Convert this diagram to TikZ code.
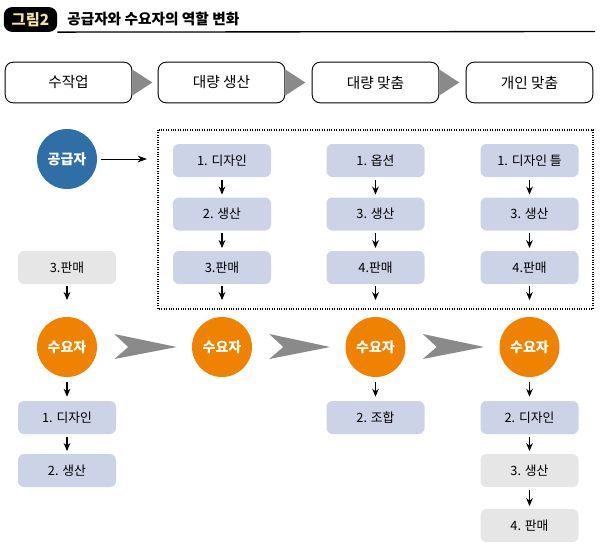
\documentclass[tikz,border=0pt]{standalone}
\usepackage{fontspec}
\setmainfont{Noto Sans CJK KR}
\usepackage{tikz}
\usetikzlibrary{positioning,arrows.meta,calc}
\definecolor{boxblue}{RGB}{205,211,230}
\definecolor{greybox}{RGB}{230,230,230}
\definecolor{orangeacc}{RGB}{239,131,0}
\definecolor{supblue}{RGB}{48,111,166}
\definecolor{chevgrey}{RGB}{138,138,138}
\definecolor{cream}{RGB}{242,226,164}
\newcommand{\fs}[1]{\fontsize{#1}{#1}\selectfont}
\tikzset{
  stage/.style ={draw=black, line width=0.7pt, rounded corners=6pt, fill=white,
                 minimum width=95pt, minimum height=30.5pt, font=\fs{11}},
  blk/.style   ={fill=boxblue, rounded corners=4.5pt, minimum width=73.5pt,
                 minimum height=24.75pt, inner sep=0pt, font=\fs{9.6}},
  gblk/.style  ={blk, fill=greybox},
  actor/.style ={circle, minimum size=45pt, inner sep=0pt, text=white,
                 font=\fs{10.5}\bfseries},
  ar/.style    ={-{Stealth[length=6pt,width=5pt]}, line width=0.8pt},
  chev/.style  ={fill=chevgrey},
}

\begin{document}
\begin{tikzpicture}[x=0.75pt,y=-0.75pt]
\useasboundingbox (0,0) rectangle (600,547);
% title
\node[fill=black, rounded corners=6pt, minimum width=40pt, minimum height=18.5pt,
      inner sep=0pt, text=cream, font=\fs{11.5}\bfseries] (tab) at (30.5,19.5) {그림2};
\node[anchor=west, font=\fs{11}\bfseries, inner sep=0pt] (title) at (67,19) {공급자와 수요자의 역할 변화};
\coordinate (tend) at (595,31.5);
\draw[line width=1pt] (tab.south east) -- (tend);

% stages
\foreach \i/\x/\t in {0/68.5/수작업, 1/221.5/대량 생산, 2/375.5/대량 맞춤, 3/529.5/개인 맞춤}
  \node[stage] (s\i) at (\x,82.5) {\t};
\foreach \i in {0,1,2}
  \fill[chev] (s\i.east) ++(0,-13) -- ++(20,13) -- ++(-20,13) -- cycle;

% supplier side
\node[actor, fill=supblue] (sup) at (67,159) {공급자};
\coordinate (supend) at (147,159);
\draw[-{Stealth[length=7pt,width=5pt]}, line width=0.7pt, shorten <=3pt] (sup) -- (supend);
\draw[densely dotted, line width=0.8pt] (158,130) rectangle (593,309);

\node[gblk] (a3) at (67,267.5) {3.판매};
\foreach \c/\x/\p/\q/\r in {1/222/1. 디자인/2. 생산/3.판매,
                            2/375.5/1. 옵션/3. 생산/4.판매,
                            3/529.5/1. 디자인 틀/3. 생산/4.판매}{
  \node[blk] (b\c1) at (\x,160.5) {\p};
  \node[blk] (b\c2) at (\x,214) {\q};
  \node[blk] (b\c3) at (\x,267.5) {\r};
  \draw[ar, shorten <=2pt, shorten >=2pt] (b\c1) -- (b\c2);
  \draw[ar, shorten <=2pt, shorten >=2pt] (b\c2) -- (b\c3);
}

% consumers
\foreach \i/\x in {0/67, 1/222, 2/375.5, 3/529.5}
  \node[actor, fill=orangeacc] (d\i) at (\x,347) {수요자};
\foreach \i/\j in {0/1, 1/2, 2/3}
  \fill[chev] ($(d\i.east)+(17,-13)$) -- ($(d\j.west)+(-15,0)$)
    -- ($(d\i.east)+(17,12)$) -- ($(d\i.east)+(31,0)$) -- cycle;
\draw[ar, shorten <=1.5pt, shorten >=12.5pt] (a3) -- (d0);
\foreach \c in {1,2,3}
  \draw[ar, shorten <=1.5pt, shorten >=12.5pt] (b\c3) -- (d\c);

% consumer side
\node[blk] (e01) at (67,417.5) {1. 디자인};
\node[blk] (e02) at (67,470.5) {2. 생산};
\node[blk] (e21) at (375.5,417.5) {2. 조합};
\node[blk] (e31) at (529.5,417.5) {2. 디자인};
\node[gblk] (e32) at (529.5,470.5) {3. 생산};
\node[gblk] (e33) at (529.5,525.5) {4. 판매};
\draw[ar, shorten <=3.5pt, shorten >=3pt] (d0) -- (e01);
\draw[ar, shorten <=3.5pt, shorten >=3pt] (d2) -- (e21);
\draw[ar, shorten <=3.5pt, shorten >=3pt] (d3) -- (e31);
\draw[ar, shorten <=2pt, shorten >=2pt] (e01) -- (e02);
\draw[ar, shorten <=2pt, shorten >=2pt] (e31) -- (e32);
\draw[ar, shorten <=2pt, shorten >=2pt] (e32) -- (e33);
\end{tikzpicture}
\end{document}
